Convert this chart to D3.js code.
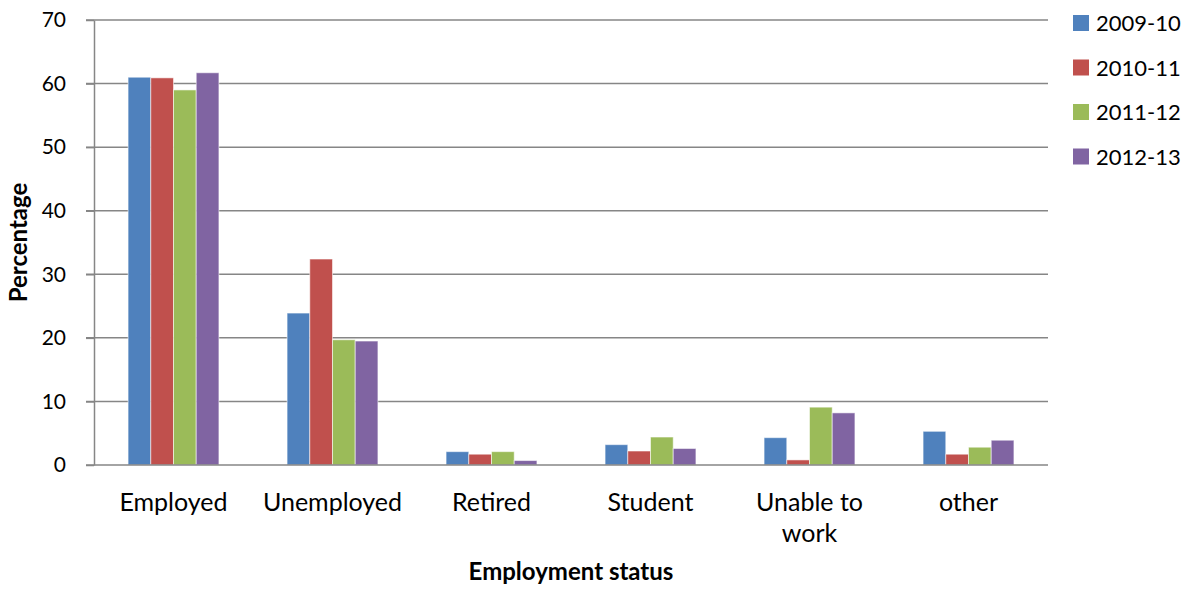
<!DOCTYPE html>
<html>
<head>
<meta charset="utf-8">
<script src="https://cdn.jsdelivr.net/npm/d3@7"></script>
<style>
  html, body { margin: 0; padding: 0; background: #fff; }
  svg { display: block; }
  text { font-family: Lato, "Open Sans", sans-serif; fill: #000; }
</style>
</head>
<body>
<svg id="chart" width="1195" height="589"></svg>
<script>
// Employment status by survey year (percentages)
const categories = ["Employed", "Unemployed", "Retired", "Student", "Unable to work", "other"];
const categoryLines = [["Employed"], ["Unemployed"], ["Retired"], ["Student"], ["Unable to", "work"], ["other"]];
const seriesNames = ["2009-10", "2010-11", "2011-12", "2012-13"];
const values2009 = [61.0, 23.9, 2.1, 3.2, 4.3, 5.3];
const values2010 = [60.9, 32.4, 1.7, 2.2, 0.8, 1.7];
const values2011 = [59.0, 19.7, 2.1, 4.4, 9.1, 2.8];
const values2012 = [61.7, 19.5, 0.7, 2.6, 8.2, 3.9];
const yTicks = [0, 10, 20, 30, 40, 50, 60, 70];
const colors = ["#4f81bd", "#c0504d", "#9bbb59", "#8064a2"];

const allSeries = [values2009, values2010, values2011, values2012];

const svg = d3.select("#chart");
const plot = { left: 94, right: 1048, top: 20, bottom: 465 };
const gridColor = "#868686";

const y = d3.scaleLinear().domain([0, 70]).range([plot.bottom, plot.top]);
const x0 = d3.scaleBand().domain(categories).range([plot.left, plot.right]).paddingInner(0).paddingOuter(0);
// bars occupy 4/7 of each category slot, centred
const groupW = x0.bandwidth() * 4 / 7;
const x1 = d3.scaleBand().domain(seriesNames).range([0, groupW]).padding(0);

// horizontal gridlines
svg.append("g")
  .selectAll("line")
  .data(yTicks.filter(t => t > 0))
  .join("line")
  .attr("x1", plot.left - 8).attr("x2", plot.right)
  .attr("y1", d => y(d)).attr("y2", d => y(d))
  .attr("stroke", gridColor).attr("stroke-width", 1.5);

// y axis
const yAxis = d3.axisLeft(y).tickValues(yTicks).tickSize(8).tickPadding(20).tickSizeOuter(0);
const gy = svg.append("g").attr("transform", `translate(${plot.left},0)`).call(yAxis);
gy.select(".domain").attr("stroke", gridColor).attr("stroke-width", 1.5);
gy.selectAll(".tick line").attr("stroke", gridColor).attr("stroke-width", 1.5);
gy.selectAll(".tick text").attr("font-size", 21).attr("font-family", "Lato, sans-serif").attr("fill", "#000");

// bars
const groups = svg.append("g")
  .selectAll("g")
  .data(categories)
  .join("g")
  .attr("transform", c => `translate(${x0(c) + (x0.bandwidth() - groupW) / 2},0)`);

groups.selectAll("rect")
  .data((c, i) => seriesNames.map((s, j) => ({ s, v: allSeries[j][i], j })))
  .join("rect")
  .attr("x", d => x1(d.s))
  .attr("width", x1.bandwidth())
  .attr("y", d => y(d.v))
  .attr("height", d => y(0) - y(d.v))
  .attr("fill", d => colors[d.j])
  .attr("stroke", "rgba(255,255,255,0.55)")
  .attr("stroke-width", 1);

// x axis baseline
svg.append("line")
  .attr("x1", plot.left - 8).attr("x2", plot.right)
  .attr("y1", y(0)).attr("y2", y(0))
  .attr("stroke", gridColor).attr("stroke-width", 1.5);

// category labels
const catLabels = svg.append("g")
  .selectAll("text")
  .data(categories)
  .join("text")
  .attr("x", c => x0(c) + x0.bandwidth() / 2)
  .attr("y", 511)
  .attr("text-anchor", "middle")
  .attr("font-size", 25);
catLabels.each(function (c, i) {
  d3.select(this).selectAll("tspan")
    .data(categoryLines[i])
    .join("tspan")
    .attr("x", x0(c) + x0.bandwidth() / 2)
    .attr("dy", (d, k) => k === 0 ? 0 : 31)
    .text(d => d);
});

// axis titles
svg.append("text")
  .attr("x", (plot.left + plot.right) / 2)
  .attr("y", 580)
  .attr("text-anchor", "middle")
  .attr("font-size", 24)
  .attr("font-weight", "bold")
  .text("Employment status");

svg.append("text")
  .attr("transform", `translate(27,${(plot.top + plot.bottom) / 2}) rotate(-90)`)
  .attr("text-anchor", "middle")
  .attr("font-size", 24)
  .attr("font-weight", "bold")
  .text("Percentage");

// legend
const legend = svg.append("g")
  .selectAll("g")
  .data(seriesNames)
  .join("g")
  .attr("transform", (d, i) => `translate(1073,${23 + i * 44.5})`);
legend.append("rect")
  .attr("x", 0).attr("y", -8)
  .attr("width", 16).attr("height", 16)
  .attr("fill", (d, i) => colors[i]);
legend.append("text")
  .attr("x", 23).attr("y", 8)
  .attr("font-size", 22)
  .text(d => d);
</script>
</body>
</html>
